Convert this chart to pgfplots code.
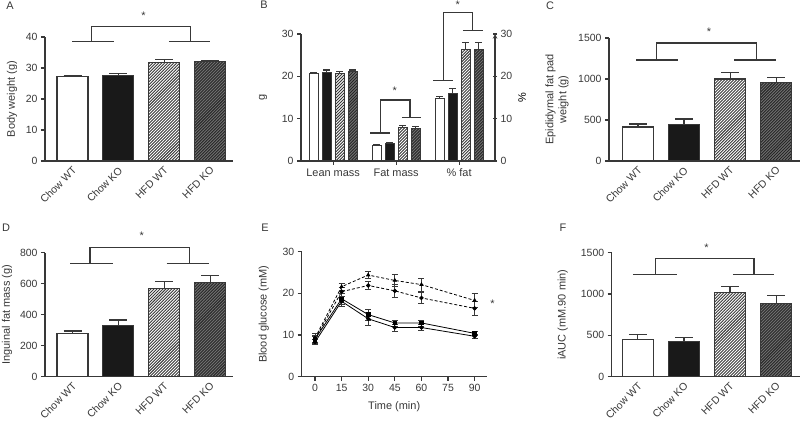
\documentclass[border=0pt]{standalone}
\usepackage{fontspec}
\setmainfont{Liberation Sans}
\usepackage{pgfplots}
\pgfplotsset{compat=1.18}
\usetikzlibrary{patterns}

\definecolor{axcol}{gray}{0.22}
\definecolor{kofill}{gray}{0.1}
\definecolor{hkofill}{gray}{0.45}

% thicker diagonal hatching for the HFD bars
\pgfdeclarepatternformonly{hatch}{\pgfqpoint{-1pt}{-1pt}}{\pgfqpoint{4pt}{4pt}}{\pgfqpoint{3pt}{3pt}}{
  \pgfsetlinewidth{0.9pt}
  \pgfpathmoveto{\pgfqpoint{0pt}{0pt}}
  \pgfpathlineto{\pgfqpoint{3.1pt}{3.1pt}}
  \pgfusepath{stroke}
}

\tikzset{brk/.style={draw=axcol, line width=1.2pt}}

\pgfplotsset{
  fig/.style={
    scale only axis, clip=false,
    axis lines=left, axis line style={-, line width=1.1pt, draw=axcol},
    tick align=outside, major tick length=4bp,
    tick style={line width=1.1pt, draw=axcol},
    ymin=0,
    font=\fontsize{11}{13}\selectfont,
    /pgf/number format/assume math mode=true,
    /pgf/number format/1000 sep={},
    tick label style={text=axcol},
    yticklabel style={font=\fontsize{10.5}{12.6}\selectfont},
    label style={text=axcol},
    ylabel style={at={(axis description cs:0,0.5)}, anchor=center},
  },
  barfig/.style={fig,
    xmin=-0.6, xmax=3.5,
    xtick={0,1,2,3},
    xticklabels={Chow WT,Chow KO,HFD WT,HFD KO},
    xtick style={draw=none},
    xticklabel style={rotate=45, anchor=north east, inner sep=1bp,
      font=\fontsize{10.5}{12.6}\selectfont, yshift=1bp},
    ybar, bar width=31bp, bar shift=0pt,
  },
  eb/.style={
    error bars/y dir=plus, error bars/y explicit,
    error bars/error bar style={line width=1.1pt, draw=axcol},
    error bars/error mark options={rotate=90, line width=1.1pt, draw=axcol, mark size=#1},
  },
  eb/.default=9bp,
  cwt/.style={draw=axcol, line width=1.1pt, fill=white},
  cko/.style={draw=axcol, line width=1.1pt, fill=kofill},
  hwt/.style={draw=axcol, line width=1.1pt, preaction={fill=white}, pattern=hatch, pattern color=axcol},
  hko/.style={draw=axcol, line width=1.1pt, preaction={fill=hkofill}, pattern=hatch, pattern color=black!85},
  gl/.style={draw=black, line width=0.8pt, mark size=1.8bp, mark options={solid, fill=black},
    error bars/y dir=both, error bars/y explicit,
    error bars/error bar style={solid, line width=0.7pt, draw=axcol},
    error bars/error mark options={rotate=90, line width=0.7pt, draw=axcol, mark size=3bp}},
}

\begin{document}
\begin{tikzpicture}
\path[use as bounding box] (0,0) rectangle (800bp,422bp);

% ---- A: body weight
\begin{axis}[barfig, at={(45bp,261bp)}, anchor=south west, width=188bp, height=124bp,
  ymax=40, ytick={0,10,20,30,40}, ylabel={Body weight (g)}, ylabel style={yshift=33bp}]
\addplot[cwt, eb] coordinates {(0,27.2) +- (0,0.5)};
\addplot[cko, eb] coordinates {(1,27.5) +- (0,0.6)};
\addplot[hwt, eb] coordinates {(2,31.8) +- (0,0.9)};
\addplot[hko, eb] coordinates {(3,32.0) +- (0,0.5)};
\draw[brk] (axis cs:-0.01,38.5) -- (axis cs:0.9,38.5);
\draw[brk] (axis cs:2.1,38.5) -- (axis cs:2.99,38.5);
\draw[brk] (axis cs:0.42,38.5) -- (axis cs:0.42,43.5) -- (axis cs:2.58,43.5) -- (axis cs:2.58,38.5);
\node[text=axcol] at (axis cs:1.55,47) {*};
\end{axis}

% ---- B: body composition (g, left axis)
\begin{axis}[fig, at={(301bp,261bp)}, anchor=south west, width=194bp, height=127bp,
  xmin=-0.51, xmax=2.57, ymax=30, ytick={0,10,20,30},
  xtick={0,1,2}, xticklabels={Lean mass,Fat mass,\% fat},
  ybar=4bp, bar width=9bp,
  ylabel={g}, ylabel style={yshift=38bp}]
\addplot[cwt, eb=3.5bp] coordinates {(0,20.7) +- (0,0.3) (1,3.7) +- (0,0.15)};
\addplot[cko, eb=3.5bp] coordinates {(0,21.0) +- (0,0.5) (1,4.2) +- (0,0.2)};
\addplot[hwt, eb=3.5bp] coordinates {(0,20.7) +- (0,0.5) (1,7.9) +- (0,0.5)};
\addplot[hko, eb=3.5bp] coordinates {(0,21.2) +- (0,0.3) (1,7.7) +- (0,0.5)};
\draw[brk] (axis cs:0.59,6.6) -- (axis cs:0.90,6.6);
\draw[brk] (axis cs:1.09,10.2) -- (axis cs:1.40,10.2);
\draw[brk] (axis cs:0.75,6.6) -- (axis cs:0.75,14.4) -- (axis cs:1.22,14.4) -- (axis cs:1.22,10.2);
\node[text=axcol] at (axis cs:0.98,16.5) {*};
\draw[brk] (axis cs:1.59,19.1) -- (axis cs:1.90,19.1);
\draw[brk] (axis cs:2.06,30.9) -- (axis cs:2.38,30.9);
\draw[brk] (axis cs:1.75,19.1) -- (axis cs:1.75,35) -- (axis cs:2.21,35) -- (axis cs:2.21,30.9);
\node[text=axcol] at (axis cs:1.98,36.8) {*};
\end{axis}
% ---- B: % fat (right axis)
\begin{axis}[fig, at={(301bp,261bp)}, anchor=south west, width=194bp, height=127bp,
  xmin=-0.51, xmax=2.57, ymax=30, ytick={0,10,20,30},
  axis x line=none, axis y line=right,
  ybar=4bp, bar width=9bp,
  ylabel={\%}, ylabel style={at={(axis description cs:1,0.5)}, anchor=center, yshift=-27bp}]
\addplot[cwt, eb=3.5bp] coordinates {(2,14.8) +- (0,0.4)};
\addplot[cko, eb=3.5bp] coordinates {(2,15.9) +- (0,1.3)};
\addplot[hwt, eb=3.5bp] coordinates {(2,26.4) +- (0,1.5)};
\addplot[hko, eb=3.5bp] coordinates {(2,26.4) +- (0,1.6)};
\end{axis}

% ---- C: epididymal fat pad
\begin{axis}[barfig, at={(609bp,261bp)}, anchor=south west, width=191bp, height=123bp,
  xmin=-0.63, xmax=3.52, ymax=1500, ytick={0,500,1000,1500},
  ylabel={Epididymal fat pad\\weight (g)}, ylabel style={align=center, yshift=52bp}]
\addplot[cwt, eb] coordinates {(0,415) +- (0,36)};
\addplot[cko, eb] coordinates {(1,447) +- (0,65)};
\addplot[hwt, eb] coordinates {(2,1000) +- (0,80)};
\addplot[hko, eb] coordinates {(3,958) +- (0,65)};
\draw[brk] (axis cs:-0.04,1232) -- (axis cs:0.87,1232);
\draw[brk] (axis cs:2.09,1232) -- (axis cs:3.0,1232);
\draw[brk] (axis cs:0.41,1232) -- (axis cs:0.41,1439) -- (axis cs:2.57,1439) -- (axis cs:2.57,1232);
\node[text=axcol] at (axis cs:1.54,1573) {*};
\end{axis}

% ---- D: inguinal fat
\begin{axis}[barfig, at={(45bp,45.3bp)}, anchor=south west, width=188bp, height=124bp,
  ymax=800, ytick={0,200,400,600,800},
  ylabel={Inguinal fat mass (g)}, ylabel style={yshift=38bp}]
\addplot[cwt, eb] coordinates {(0,280) +- (0,15)};
\addplot[cko, eb] coordinates {(1,333) +- (0,33)};
\addplot[hwt, eb] coordinates {(2,570) +- (0,47)};
\addplot[hko, eb] coordinates {(3,606) +- (0,44)};
\draw[brk] (axis cs:-0.05,732) -- (axis cs:0.88,732);
\draw[brk] (axis cs:2.05,732) -- (axis cs:2.97,732);
\draw[brk] (axis cs:0.38,732) -- (axis cs:0.38,832) -- (axis cs:2.55,832) -- (axis cs:2.55,732);
\node[text=axcol] at (axis cs:1.51,910) {*};
\end{axis}

% ---- E: glucose tolerance
\begin{axis}[fig, at={(301.7bp,45.3bp)}, anchor=south west, width=185bp, height=125bp,
  xmin=-7.5, xmax=96.8, ymax=30, xtick={0,15,30,45,60,75,90}, ytick={0,10,20,30},
  xticklabel style={font=\fontsize{10.5}{12.6}\selectfont},
  xlabel={Time (min)}, xlabel style={at={(axis description cs:0.5,0)}, anchor=center, yshift=-30bp},
  ylabel={Blood glucose (mM)}, ylabel style={yshift=38bp}]
\addplot[gl, dash pattern=on 3bp off 2bp, mark=triangle*] coordinates {
  (0,9.3) +- (0,1.0) (15,21.6) +- (0,0.8) (30,24.4) +- (0,0.8)
  (45,23.1) +- (0,1.4) (60,22.1) +- (0,1.5) (90,18.3) +- (0,1.6)};
\addplot[gl, dash pattern=on 3bp off 2bp, mark=*] coordinates {
  (0,9.0) +- (0,0.9) (15,20.4) +- (0,1.0) (30,21.9) +- (0,1.0)
  (45,20.6) +- (0,1.5) (60,18.9) +- (0,1.3) (90,16.4) +- (0,1.6)};
\addplot[gl, mark=square*] coordinates {
  (0,9.0) +- (0,0.7) (15,18.7) +- (0,1.4) (30,14.9) +- (0,1.3)
  (45,12.9) +- (0,0.7) (60,12.9) +- (0,0.7) (90,10.4) +- (0,0.5)};
\addplot[gl, mark=*] coordinates {
  (0,8.3) +- (0,0.6) (15,18.1) +- (0,1.3) (30,13.9) +- (0,1.5)
  (45,11.8) +- (0,0.8) (60,11.8) +- (0,0.7) (90,9.7) +- (0,0.5)};
\node[text=axcol] at (axis cs:100,17.4) {*};
\end{axis}

% ---- F: iAUC
\begin{axis}[barfig, at={(611.7bp,45.3bp)}, anchor=south west, width=188.3bp, height=124bp,
  xmin=-0.57, xmax=3.52, ymax=1500, ytick={0,500,1000,1500},
  ylabel={iAUC (mM.90 min)}, ylabel style={yshift=49bp}]
\addplot[cwt, eb] coordinates {(0,447) +- (0,65)};
\addplot[cko, eb] coordinates {(1,427) +- (0,50)};
\addplot[hwt, eb] coordinates {(2,1016) +- (0,70)};
\addplot[hko, eb] coordinates {(3,883) +- (0,100)};
\draw[brk] (axis cs:-0.11,1238) -- (axis cs:0.84,1238);
\draw[brk] (axis cs:2.06,1238) -- (axis cs:2.96,1238);
\draw[brk] (axis cs:0.38,1238) -- (axis cs:0.38,1432) -- (axis cs:2.52,1432) -- (axis cs:2.52,1238);
\node[text=axcol] at (axis cs:1.49,1565) {*};
\end{axis}

% panel letters
\begin{scope}[every node/.style={font=\fontsize{11}{13}\selectfont, text=axcol}]
\node at (10bp,416bp) {A};
\node at (264bp,417bp) {B};
\node at (550bp,416bp) {C};
\node at (6bp,194bp) {D};
\node at (265bp,194bp) {E};
\node at (563bp,194bp) {F};
\end{scope}
\end{tikzpicture}
\end{document}
